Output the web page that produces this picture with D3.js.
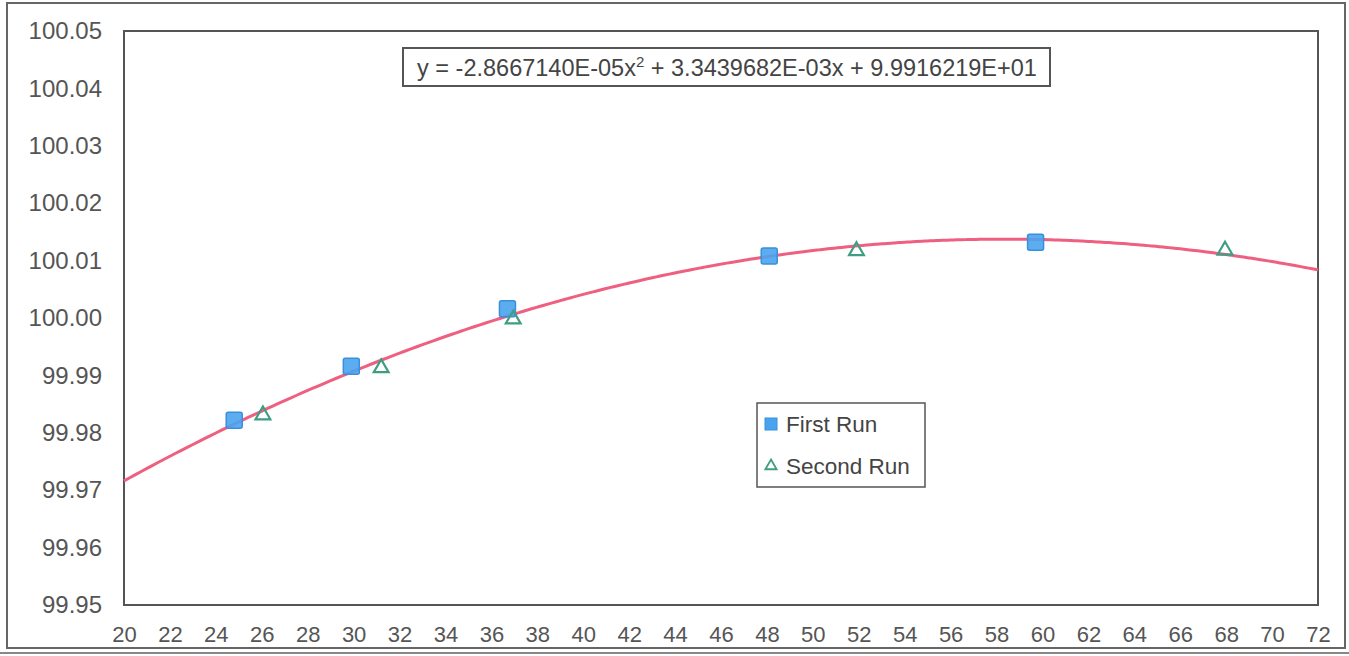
<!DOCTYPE html>
<html>
<head>
<meta charset="utf-8">
<script src="https://cdn.jsdelivr.net/npm/d3@7"></script>
<style>
  html, body { margin: 0; padding: 0; background: #fff; }
  svg { display: block; font-family: "Liberation Sans", Arial, sans-serif; }
</style>
</head>
<body>
<svg id="chart" width="1349" height="656"></svg>
<script>
// ---- data ----
const firstRunX = [24.8, 29.9, 36.7, 48.1, 59.7];
const firstRunY = [99.9822, 99.9916, 100.0016, 100.0108, 100.0132];
const secondRunX = [26.05, 31.2, 36.95, 51.9, 67.95];
const secondRunY = [99.9831, 99.9913, 99.9998, 100.0117, 100.0118];
const trendCoeffs = [-2.8667140E-05, 3.3439682E-03, 9.9916219E+01]; // a x^2 + b x + c
const xTicks = d3.range(20, 73, 2);
const yTicks = [99.95, 99.96, 99.97, 99.98, 99.99, 100.00, 100.01, 100.02, 100.03, 100.04, 100.05];
const seriesNames = ["First Run", "Second Run"];
const equationLabel = ["y = -2.8667140E-05x", "2", " + 3.3439682E-03x + 9.9916219E+01"];

// ---- layout ----
const svg = d3.select("#chart");
const plot = { left: 124, top: 31, right: 1318, bottom: 605 };
const x = d3.scaleLinear().domain([20, 72]).range([plot.left, plot.right]);
const y = d3.scaleLinear().domain([99.95, 100.05]).range([plot.bottom, plot.top]);
const textColor = "#555";

// outer frame
svg.append("rect").attr("x", 7).attr("y", 3).attr("width", 1338).attr("height", 645)
  .attr("fill", "none").attr("stroke", "#666").attr("stroke-width", 2);
svg.append("line").attr("x1", 0).attr("x2", 1349).attr("y1", 653).attr("y2", 653)
  .attr("stroke", "#888").attr("stroke-width", 2);

// plot area border
svg.append("rect").attr("x", plot.left).attr("y", plot.top)
  .attr("width", plot.right - plot.left).attr("height", plot.bottom - plot.top)
  .attr("fill", "none").attr("stroke", "#555").attr("stroke-width", 2);

// axes
const yAxis = d3.axisLeft(y).tickValues(yTicks).tickSize(0).tickPadding(22)
  .tickFormat(d3.format(".2f"));
const yg = svg.append("g").attr("transform", `translate(${plot.left},0)`).call(yAxis);
yg.select(".domain").remove();
yg.selectAll("text").attr("font-size", 24).attr("fill", textColor)
  .attr("font-family", "Liberation Sans, Arial, sans-serif");

const xAxis = d3.axisBottom(x).tickValues(xTicks).tickSize(0).tickPadding(21)
  .tickFormat(d3.format("d"));
const xg = svg.append("g").attr("transform", `translate(0,${plot.bottom})`).call(xAxis);
xg.select(".domain").remove();
xg.selectAll("text").attr("font-size", 22).attr("fill", textColor)
  .attr("font-family", "Liberation Sans, Arial, sans-serif");

// trendline
const [a, b, c] = trendCoeffs;
const curveX = d3.range(20, 72.001, 0.25);
const line = d3.line().x(d => x(d)).y(d => y(a * d * d + b * d + c)).curve(d3.curveMonotoneX);
svg.append("path").datum(curveX).attr("d", line)
  .attr("fill", "none").attr("stroke", "#ee5f80").attr("stroke-width", 3);

// markers
const sq = 16;
const first = d3.zip(firstRunX, firstRunY);
svg.append("g").selectAll("rect").data(first).join("rect")
  .attr("x", d => x(d[0]) - sq / 2).attr("y", d => y(d[1]) - sq / 2)
  .attr("width", sq).attr("height", sq).attr("rx", 2)
  .attr("fill", "#4aa3ee").attr("fill-opacity", 0.9).attr("stroke", "#3a8fdc").attr("stroke-width", 1.5);

const tri = d3.symbol().type(d3.symbolTriangle).size(95);
const second = d3.zip(secondRunX, secondRunY);
svg.append("g").selectAll("path").data(second).join("path")
  .attr("transform", d => `translate(${x(d[0])},${y(d[1])})`)
  .attr("d", tri).attr("fill", "none").attr("stroke", "#3f9e82").attr("stroke-width", 2.2);

// equation box
const eq = svg.append("g");
eq.append("rect").attr("x", 403).attr("y", 48).attr("width", 647).attr("height", 38)
  .attr("fill", "#fff").attr("stroke", "#555").attr("stroke-width", 2);
const eqText = eq.append("text").attr("x", 727).attr("y", 76).attr("text-anchor", "middle")
  .attr("font-size", 23.5).attr("fill", "#444");
eqText.append("tspan").text(equationLabel[0]);
eqText.append("tspan").attr("dy", -9).attr("font-size", 15).text(equationLabel[1]);
eqText.append("tspan").attr("dy", 9).text(equationLabel[2]);

// legend
const lg = svg.append("g");
lg.append("rect").attr("x", 757).attr("y", 403).attr("width", 168).attr("height", 84)
  .attr("fill", "#fff").attr("stroke", "#555").attr("stroke-width", 1.5);
lg.append("rect").attr("x", 765).attr("y", 418).attr("width", 12).attr("height", 12)
  .attr("fill", "#4aa3ee").attr("stroke", "#3a8fdc");
lg.append("path").attr("transform", "translate(771,466)")
  .attr("d", d3.symbol().type(d3.symbolTriangle).size(55))
  .attr("fill", "none").attr("stroke", "#3f9e82").attr("stroke-width", 1.8);
lg.selectAll("text.leg").data(seriesNames).join("text").attr("class", "leg")
  .attr("x", 786).attr("y", (d, i) => 432 + i * 42)
  .attr("font-size", 22.5).attr("fill", "#444").text(d => d);
</script>
</body>
</html>
